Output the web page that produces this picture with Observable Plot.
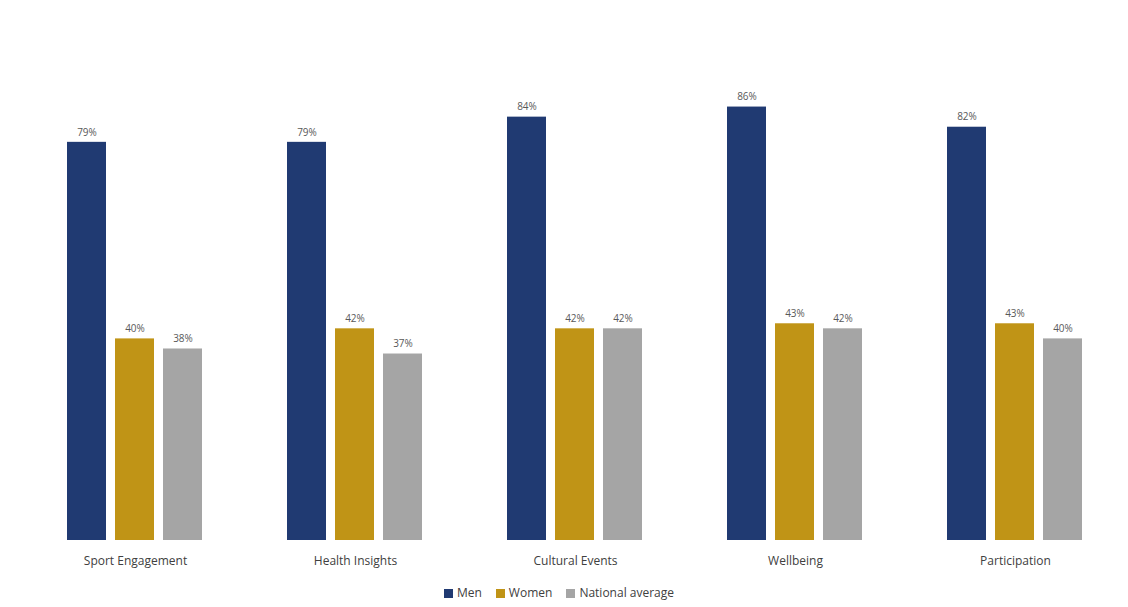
<!DOCTYPE html>
<html>
<head>
<meta charset="utf-8">
<script src="https://cdn.jsdelivr.net/npm/d3@7"></script>
<script src="https://cdn.jsdelivr.net/npm/@observablehq/plot@0.6"></script>
<style>
  body { margin: 0; background: #fff; font-family: "Open Sans", "Noto Sans", sans-serif; }
  #legend { display: flex; justify-content: center; gap: 14px; font-size: 12px; color: #404040; margin-top: 4px; padding-right: 10px; }
  #legend span.sw { display: inline-block; width: 9px; height: 9px; margin-right: 4px; vertical-align: -1px; }
</style>
</head>
<body>
<div id="chart"></div>
<div id="legend"></div>
<script>
const categories = ["Sport Engagement", "Health Insights", "Cultural Events", "Wellbeing", "Participation"];
const seriesNames = ["Men", "Women", "National average"];
const seriesColors = ["#203a72", "#c09416", "#a5a5a5"];
const menValues = [79, 79, 84, 86, 82];
const womenValues = [40, 42, 42, 43, 43];
const overallValues = [38, 37, 42, 42, 40];

const seriesValues = [menValues, womenValues, overallValues];
const data = [];
categories.forEach((c, i) => {
  seriesNames.forEach((s, j) => data.push({ category: c, series: s, value: seriesValues[j][i] }));
});

const chart = Plot.plot({
  width: 1128,
  height: 580,
  marginLeft: 22,
  marginRight: 0,
  marginTop: 36,
  marginBottom: 40,
  style: { fontFamily: "Open Sans, Noto Sans, sans-serif", background: "#fff" },
  fx: { domain: categories, padding: 0.373, paddingOuter: 0.2, label: null },
  x: { domain: seriesNames, padding: 0.18, paddingOuter: 0, axis: null },
  y: { domain: [0, 100], axis: null },
  color: { domain: seriesNames, range: seriesColors },
  marks: [
    Plot.barY(data, { fx: "category", x: "series", y: "value", fill: "series" }),
    Plot.text(data, { fx: "category", x: "series", y: "value", text: d => d.value + "%", dy: -10, fill: "#595959", fontSize: 10 }),
    Plot.axisFx({ anchor: "bottom", tickSize: 0, tickPadding: 16, fontSize: 12, fill: "#404040", label: null })
  ]
});
document.getElementById("chart").appendChild(chart);

const legend = document.getElementById("legend");
seriesNames.forEach((s, i) => {
  const item = document.createElement("div");
  item.innerHTML = `<span class="sw" style="background:${seriesColors[i]}"></span>${s}`;
  legend.appendChild(item);
});
</script>
</body>
</html>
